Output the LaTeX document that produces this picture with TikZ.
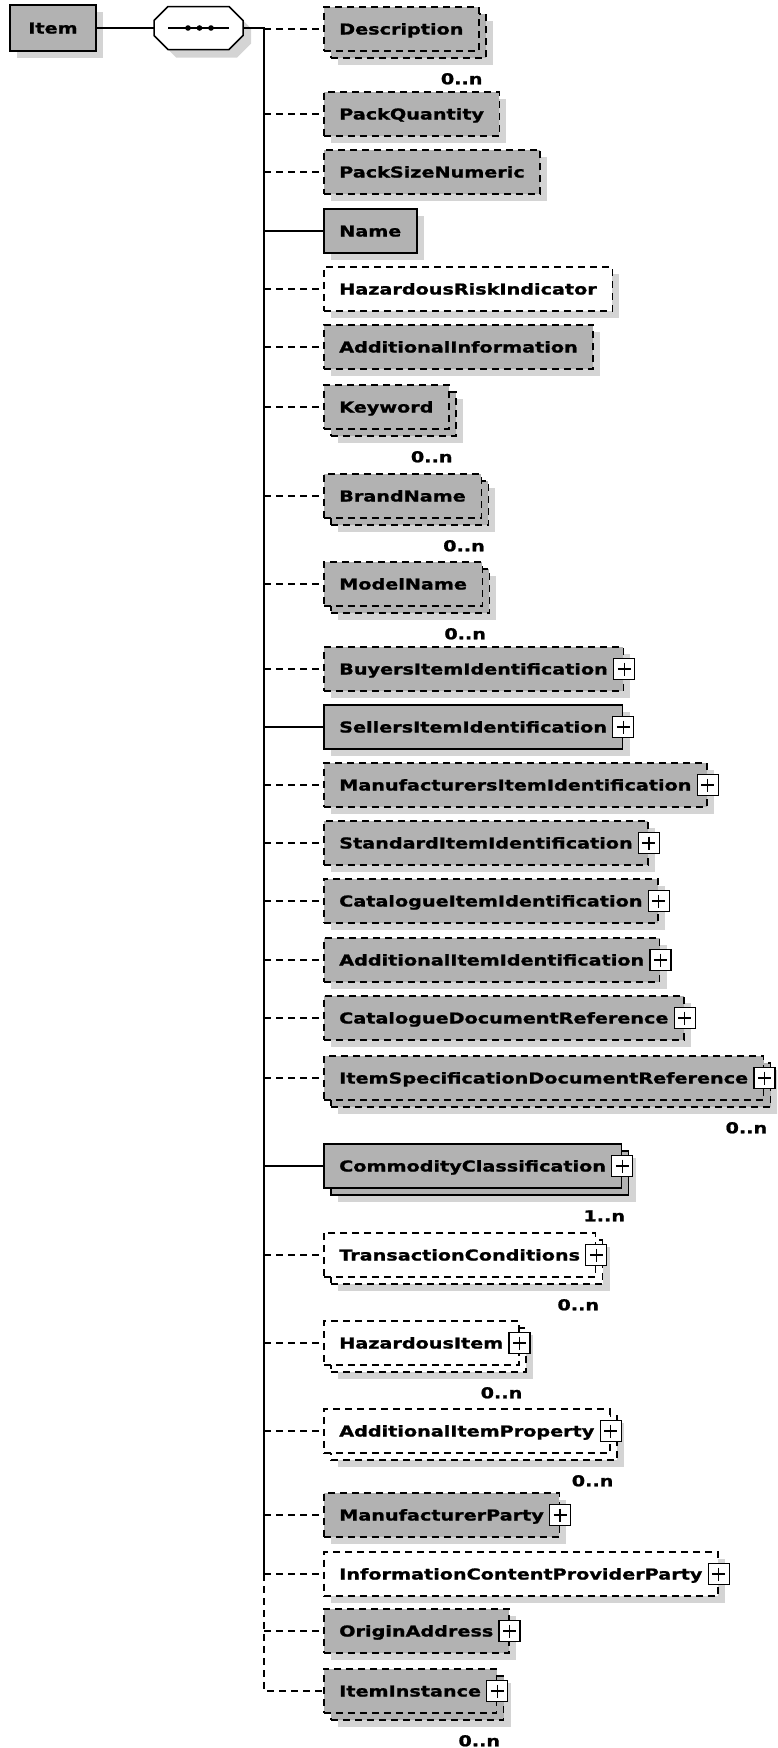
\documentclass[tikz,border=0pt]{standalone}
\usepackage{fontspec}
\newfontfamily\diagfont{DejaVu Sans}[FakeStretch=1.28,BoldFeatures={FakeBold=1.2}]
\usetikzlibrary{calc,shadows}
\definecolor{boxgray}{RGB}{178,178,178}
\definecolor{shadegray}{RGB}{212,212,212}
\tikzset{elem/.style={draw,line width=1.5pt,fill=boxgray,anchor=west,minimum height=44pt,inner xsep=15.5pt,inner ysep=0pt,
   text height=11pt,text depth=0pt,font=\diagfont\bfseries\fontsize{15pt}{18pt}\selectfont},
 opt/.style={elem,dash pattern=on 7pt off 5pt},
 blank/.style={fill=white},
 single/.style={drop shadow={shadow xshift=7pt,shadow yshift=-7pt,fill=shadegray,draw=none,opacity=1}},
 multi/.style={drop shadow={shadow xshift=14pt,shadow yshift=-14pt,fill=shadegray,draw=none,opacity=1},
   copy shadow={shadow xshift=7pt,shadow yshift=-7pt}},
 plus/.style={draw,solid,fill=white,line width=1.2pt,minimum size=21pt,inner sep=0pt,
   path picture={\draw[line width=1.2pt] ([xshift=4pt]path picture bounding box.west)--([xshift=-4pt]path picture bounding box.east)
     ([yshift=-4pt]path picture bounding box.north)--([yshift=4pt]path picture bounding box.south);}},
 card/.style={anchor=east,inner sep=0pt,text height=11pt,text depth=0pt,font=\diagfont\bfseries\fontsize{15pt}{18pt}\selectfont},
 link/.style={line width=1.5pt},
 optlink/.style={link,dash pattern=on 7pt off 5pt}}

\begin{document}
\begin{tikzpicture}[x=1pt,y=-1pt]
\useasboundingbox (0,0) rectangle (777,1748);
\clip (0,0) rectangle (777,1748);

\node[elem,single,anchor=center,line width=2pt,minimum width=86pt,minimum height=46pt] (item) at (53,28) {Item};

% sequence compositor
\node[minimum width=89pt,minimum height=43pt,inner sep=0pt] (seq) at (198.5,28) {};
\foreach \s/\f/\d in {8/shadegray/none,0/white/black}
  \draw[line width=1.5pt,fill=\f,draw=\d,shift={(\s,\s)}] (168,6.5) -- (229,6.5) -- (243,20.5) -- (243,35.5)
    -- (229,49.5) -- (168,49.5) -- (154,35.5) -- (154,20.5) -- cycle;
\draw[link] (168,28) -- (229,28);
\foreach \x in {188,199.5,211}
  \fill (\x,28) circle (2.8pt);
\coordinate (spine) at (264,28);

\node[opt,multi] (desc) at (323,29) {Description};
\node[card] (descm) at ($(desc.south east)+(3,27)$) {0..n};
\node[opt,single] (packq) at (323,114) {PackQuantity};
\node[opt,single] (packs) at (323,172) {PackSizeNumeric};
\node[elem,single] (name) at (323,231) {Name};
\node[opt,blank,single] (hazri) at (323,289) {HazardousRiskIndicator};
\node[opt,single] (addinfo) at (323,347) {AdditionalInformation};
\node[opt,multi] (keyword) at (323,407) {Keyword};
\node[card] (keywordm) at ($(keyword.south east)+(3,27)$) {0..n};
\node[opt,multi] (brand) at (323,496) {BrandName};
\node[card] (brandm) at ($(brand.south east)+(3,27)$) {0..n};
\node[opt,multi] (model) at (323,584) {ModelName};
\node[card] (modelm) at ($(model.south east)+(3,27)$) {0..n};
\node[opt,single] (buyers) at (323,669) {BuyersItemIdentification};
\node[plus] (buyersp) at (buyers.east) {};
\node[elem,single] (sellers) at (323,727) {SellersItemIdentification};
\node[plus] (sellersp) at (sellers.east) {};
\node[opt,single] (manuid) at (323,785) {ManufacturersItemIdentification};
\node[plus] (manuidp) at (manuid.east) {};
\node[opt,single] (stdid) at (323,843) {StandardItemIdentification};
\node[plus] (stdidp) at (stdid.east) {};
\node[opt,single] (catid) at (323,901) {CatalogueItemIdentification};
\node[plus] (catidp) at (catid.east) {};
\node[opt,single] (addid) at (323,960) {AdditionalItemIdentification};
\node[plus] (addidp) at (addid.east) {};
\node[opt,single] (catdoc) at (323,1018) {CatalogueDocumentReference};
\node[plus] (catdocp) at (catdoc.east) {};
\node[opt,multi] (specdoc) at (323,1078) {ItemSpecificationDocumentReference};
\node[plus] (specdocp) at (specdoc.east) {};
\node[card] (specdocm) at ($(specdoc.south east)+(3,27)$) {0..n};
\node[elem,multi] (commodity) at (323,1166) {CommodityClassification};
\node[plus] (commodityp) at (commodity.east) {};
\node[card] (commoditym) at ($(commodity.south east)+(3,27)$) {1..n};
\node[opt,blank,multi] (trans) at (323,1255) {TransactionConditions};
\node[plus] (transp) at (trans.east) {};
\node[card] (transm) at ($(trans.south east)+(3,27)$) {0..n};
\node[opt,blank,multi] (hazitem) at (323,1343) {HazardousItem};
\node[plus] (hazitemp) at (hazitem.east) {};
\node[card] (hazitemm) at ($(hazitem.south east)+(3,27)$) {0..n};
\node[opt,blank,multi] (addprop) at (323,1431) {AdditionalItemProperty};
\node[plus] (addpropp) at (addprop.east) {};
\node[card] (addpropm) at ($(addprop.south east)+(3,27)$) {0..n};
\node[opt,single] (manuparty) at (323,1515) {ManufacturerParty};
\node[plus] (manupartyp) at (manuparty.east) {};
\node[opt,blank,single] (info) at (323,1574) {InformationContentProviderParty};
\node[plus] (infop) at (info.east) {};
\node[opt,single] (origin) at (323,1631) {OriginAddress};
\node[plus] (originp) at (origin.east) {};
\node[opt,multi] (inst) at (323,1691) {ItemInstance};
\node[plus] (instp) at (inst.east) {};
\node[card] (instm) at ($(inst.south east)+(3,27)$) {0..n};

% connectors
\draw[link] (item.east) -- (seq.west);
\draw[link] (seq.east) -- (spine) -- (spine |- info.west);
\draw[optlink] (spine |- info.west) -- (spine |- inst.west) -- (inst.west);
\foreach \n in {name,sellers,commodity}
  \draw[link] (spine |- \n.west) -- (\n.west);
\foreach \n in {desc,packq,packs,hazri,addinfo,keyword,brand,model,buyers,manuid,stdid,catid,addid,catdoc,specdoc,trans,hazitem,addprop,manuparty,info,origin}
  \draw[optlink] (spine |- \n.west) -- (\n.west);
\end{tikzpicture}
\end{document}
